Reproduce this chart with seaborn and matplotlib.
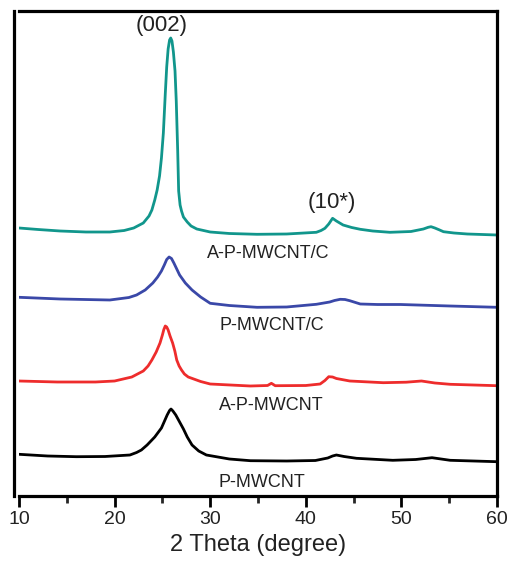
import matplotlib
matplotlib.use("Agg")
import matplotlib.pyplot as plt
import seaborn as sns
import pandas as pd
from matplotlib.ticker import MultipleLocator

# ---- data (2 Theta in degree, intensity in a.u., curves stacked) ----
teal_x = [10, 12, 14.3, 17, 19.5, 21.0, 22.0, 23.0, 23.6, 23.9, 24.2, 24.45, 24.7, 24.9,
          25.1, 25.3, 25.45, 25.6, 25.75, 25.87, 26.0, 26.15, 26.32, 26.45, 26.6, 26.7,
          26.85, 27.0, 27.2, 27.6, 28.0, 28.6, 30, 32, 34.9, 38, 41.1, 41.6, 42.0, 42.4,
          42.8, 43.2, 43.9, 44.8, 45.7, 47.0, 48.8, 51, 52.3, 52.8, 53.1, 53.5, 54.0,
          54.4, 55.5, 56.9, 60]
teal_y = [268, 266.5, 265, 264, 264, 265.5, 268, 273, 280, 286, 296, 306, 320, 338,
          363, 402, 429, 447, 456, 458, 455, 444, 425, 395, 345, 305,
          291, 285, 279, 274, 270, 267, 264, 262.5, 261.7, 262, 263.7, 265.5, 267.7, 272,
          277.7, 275, 271, 268.5, 266.7, 265, 263.7, 264.5, 267, 268.7, 269.3, 268, 266,
          264.3, 263, 262, 261]

blue_x = [10, 14.3, 19.5, 21.5, 22.3, 23.2, 24.0, 24.5, 24.9, 25.2, 25.45, 25.7, 25.95,
          26.2, 26.5, 26.8, 27.4, 28.1, 29.0, 30, 32, 34.9, 38, 41.1, 42.5, 43.0, 43.6,
          44.1, 44.6, 45.7, 47.5, 49.9, 55.1, 60]
blue_y = [198.7, 197, 196, 198.5, 201, 206, 213, 219, 225, 231, 236.5, 239, 237.5,
          233, 227, 221, 213, 206, 199, 192.7, 190.5, 188.7, 189, 191.7, 194, 195.5, 196.7,
          196.5, 195.3, 192, 191.5, 191.5, 190, 188.7]

red_x = [10, 14, 18, 20, 21.8, 23.0, 23.5, 23.9, 24.35, 24.75, 25.0, 25.15, 25.3, 25.45,
         25.6, 25.8, 26.07, 26.3, 26.5, 26.75, 27.0, 27.3, 27.7, 29, 30, 34.2, 36.0, 36.4,
         36.8, 40, 41.5, 42.0, 42.4, 42.8, 43.2, 44.6, 48.1, 50.5, 52.1, 53.5, 55.1, 60]
red_y = [115, 114, 114, 115, 119, 125, 130, 136, 144, 153, 161, 166.5, 170, 169,
         166, 160, 153, 145, 136, 130, 126, 122, 119, 114.5, 112, 110, 110.5, 112.7,
         110.3, 110.5, 112, 115.5, 119.3, 119, 117.5, 115, 113.3, 113.8, 115, 113, 111.7, 110.3]

black_x = [10, 13, 16, 19, 21.6, 22.3, 22.8, 23.4, 24.2, 24.9, 25.2, 25.5, 25.75, 25.9,
           26.1, 26.4, 26.8, 27.2, 27.6, 28.1, 28.8, 29.6, 32, 34.2, 38, 41, 42.3, 42.8,
           43.2, 44.0, 45.3, 49.1, 51.5, 53.2, 55.1, 60]
black_y = [41.7, 40, 39.3, 39.5, 41, 43.5, 46, 51, 59, 68, 74.5, 81, 85.5, 87,
           85, 81, 74, 67, 59, 51, 45, 41, 37, 35.3, 35, 35.5, 38, 40, 41, 39.5, 37.7,
           35.7, 36.5, 38.3, 35.7, 34.3]

series_names = ["A-P-MWCNT/C", "P-MWCNT/C", "A-P-MWCNT", "P-MWCNT"]
series_colors = ["#11968c", "#3a48a8", "#ee2c2c", "#000000"]
label_x = [36.1, 36.4, 36.4, 35.4]
label_y = [243, 171, 91, 13.5]

peak_labels = ["(002)", "(10*)"]
peak_x = [24.96, 42.7]
peak_y = [471, 293.5]

xticks = [10, 20, 30, 40, 50, 60]

# ---- plot ----
sns.set_style("ticks")
plt.rcParams['font.family'] = ['Liberation Sans', 'DejaVu Sans']

fig = plt.figure(figsize=(5.1, 5.73), dpi=100)
ax = fig.add_axes([19/510, 1 - 496/573, (497 - 19)/510, (496 - 11)/573])

data = [(teal_x, teal_y), (blue_x, blue_y), (red_x, red_y), (black_x, black_y)]
for (xs, ys), name, col in zip(data, series_names, series_colors):
    df = pd.DataFrame({"x": xs, "y": ys})
    sns.lineplot(data=df, x="x", y="y", ax=ax, color=col, lw=2.0,
                 estimator=None, sort=False)

for name, lx, ly in zip(series_names, label_x, label_y):
    ax.text(lx, ly, name, ha="center", va="center", fontsize=13, color="#222222")
for t, px, py in zip(peak_labels, peak_x, peak_y):
    ax.text(px, py, t, ha="center", va="center", fontsize=16, color="#222222")

ax.set_xlim(10, 60)
ax.set_ylim(0, 485)
ax.set_xticks(xticks)
ax.xaxis.set_minor_locator(MultipleLocator(5))
ax.set_yticks([])
ax.set_xlabel("2 Theta (degree)", fontsize=17, labelpad=4, color="#222222")
ax.set_ylabel("")
ax.tick_params(axis="x", which="major", direction="out", length=8, width=2,
               labelsize=14, pad=3, colors="black", labelcolor="#222222")
ax.tick_params(axis="x", which="minor", direction="out", length=5, width=2)
for s in ["left", "right", "top", "bottom"]:
    ax.spines[s].set_visible(True)
    ax.spines[s].set_linewidth(2.3)
    ax.spines[s].set_color("black")
ax.spines["left"].set_position(("outward", 3.6))

fig.savefig("out.png", dpi=100)
